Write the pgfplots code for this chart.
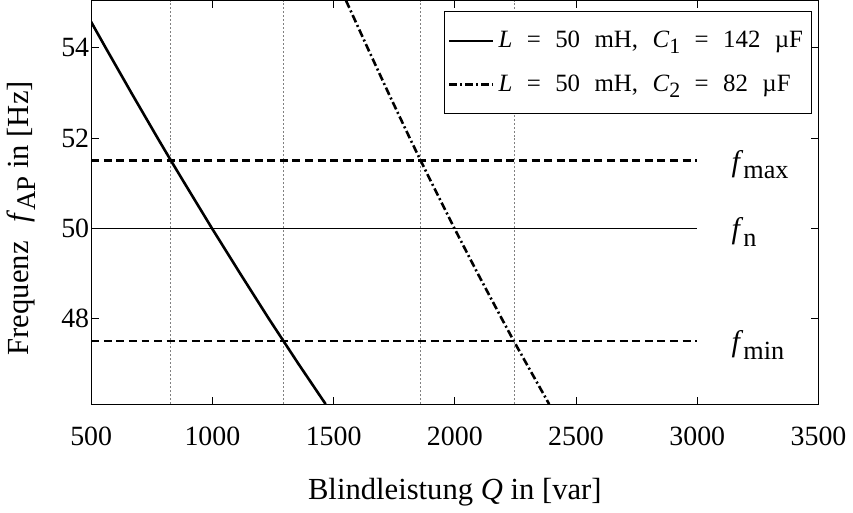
\documentclass[border=0pt]{standalone}
\usepackage{fontspec}
\setmainfont{Liberation Serif}
\usepackage{graphicx}
\usepackage{pgfplots}
\pgfplotsset{compat=1.18}
\newcommand{\sub}[1]{\raisebox{-0.55ex}{\scalebox{0.88}{#1}}}
\newcommand{\sps}{\hspace{0.58em}}
\begin{document}
\begin{tikzpicture}
\begin{axis}[
  scale only axis,
  width=364.2bp, height=202.1bp,
  xmin=500, xmax=3500, ymin=46.1, ymax=55.05,
  xtick={500,1000,...,3500}, ytick={48,50,52,54},
  tick align=inside, major tick length=3.8bp,
  tick style={line width=0.4bp, black},
  axis line style={line width=0.5bp},
  /pgf/number format/assume math mode=true,
  /pgf/number format/1000 sep={},
  xticklabel style={font=\fontsize{14}{16}\selectfont, yshift=-8bp},
  yticklabel style={font=\fontsize{14}{16}\selectfont, xshift=2.5bp},
  xlabel={Blindleistung \textit{Q} in [var]},
  xlabel style={font=\fontsize{15.4}{18}\selectfont, at={(axis description cs:0.5,0)}, anchor=center, yshift=-44bp},
  ylabel={Frequenz\hspace{0.6em}\textit{f}\sub{AP} in [Hz]},
  ylabel style={font=\fontsize{15.4}{18}\selectfont, at={(axis description cs:0,0.5)}, anchor=center, yshift=35bp, xshift=-8bp},
  legend cell align=left,
  legend style={at={(axis description cs:0.9904,0.975)}, anchor=north east,
    draw=black, line width=0.5bp, font=\fontsize{12.5}{14}\selectfont,
    inner xsep=2bp, inner ysep=8bp, row sep=8bp,
    /tikz/every even column/.append style={column sep=0bp}},
  legend image code/.code={\draw[#1] (0bp,0bp) -- (22bp,0bp);},
  clip=true,
]
% vertical dotted guide lines
\addplot[forget plot, gray, line width=0.4bp, dash pattern=on 1bp off 1bp] coordinates {(827,46.1) (827,55.05)};
\addplot[forget plot, gray, line width=0.4bp, dash pattern=on 1bp off 1bp] coordinates {(1293,46.1) (1293,55.05)};
\addplot[forget plot, gray, line width=0.4bp, dash pattern=on 1bp off 1bp] coordinates {(1858,46.1) (1858,55.05)};
\addplot[forget plot, gray, line width=0.4bp, dash pattern=on 1bp off 1bp] coordinates {(2244,46.1) (2244,55.05)};
% f_n line
\addplot[forget plot, black, line width=0.5bp] coordinates {(500,50) (3000,50)};
% f_max, f_min
\addplot[forget plot, black, line width=1.2bp, dash pattern=on 4bp off 2.3bp] coordinates {(500,51.5) (3000,51.5)};
\addplot[forget plot, black, line width=1.2bp, dash pattern=on 4bp off 2.3bp] coordinates {(500,47.5) (3000,47.5)};
% curves
\addplot[black, line width=1.3bp] coordinates {
(492,54.65) (560,54) (666,53) (774,52) (829,51.5) (885,51) (998,50) (1114,49) (1232,48) (1293,47.5) (1354,47) (1467,46.1)};
\addlegendentry{\textit{L}\sps=\sps50\sps mH,\sps\textit{C}\sub{1}\sps=\sps142\sps µF}
\addplot[black, line width=1.3bp, dash pattern=on 4bp off 1.5bp on 1bp off 1.5bp] coordinates {
(1551,55.05) (1640,54) (1726,53) (1814,52) (1859,51.5) (1905,51) (1998,50) (2094,49) (2193,48) (2243,47.5) (2295,47) (2389,46.1)};
\addlegendentry{\textit{L}\sps=\sps50\sps mH,\sps\textit{C}\sub{2}\sps=\sps82\sps µF}
% labels
\node[anchor=west, font=\fontsize{15}{18}\selectfont, inner sep=0pt, yshift=-2bp] at (axis cs:3140,51.5) {\textit{f}\sub{max}};
\node[anchor=west, font=\fontsize{15}{18}\selectfont, inner sep=0pt, yshift=-2bp] at (axis cs:3140,50) {\textit{f}\sub{n}};
\node[anchor=west, font=\fontsize{15}{18}\selectfont, inner sep=0pt, yshift=-2bp] at (axis cs:3140,47.5) {\textit{f}\sub{min}};
\end{axis}
\end{tikzpicture}
\end{document}
